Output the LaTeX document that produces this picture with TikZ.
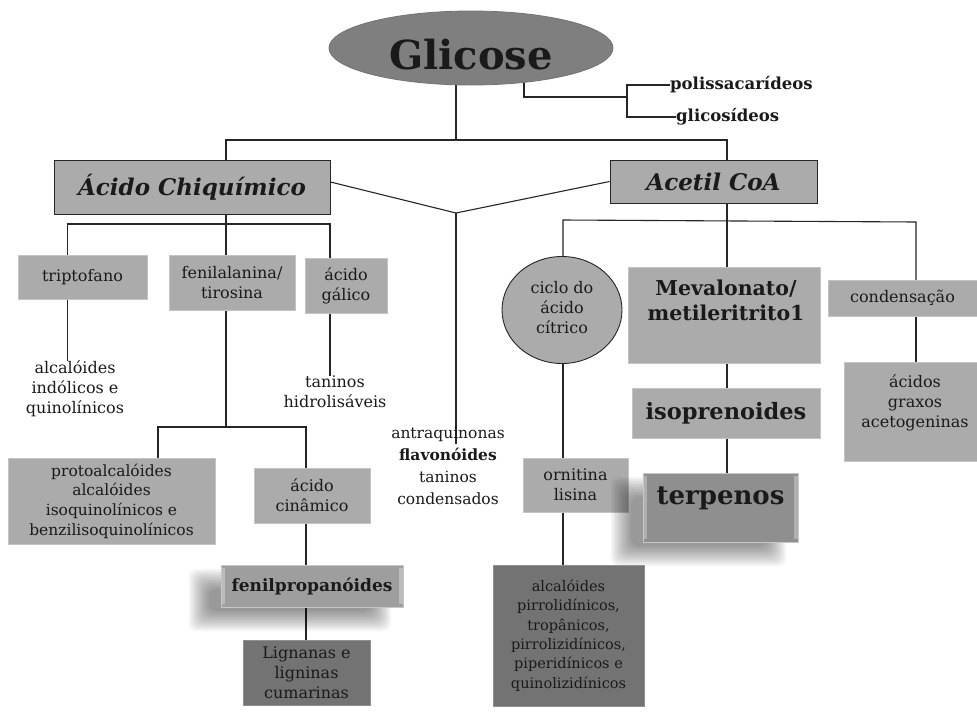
\documentclass[tikz,border=0pt]{standalone}
\usepackage{fontspec}
\setmainfont{DejaVu Serif}
\usetikzlibrary{shapes.geometric}
\pgfdeclarelayer{back}
\pgfdeclarelayer{bg}
\pgfsetlayers{back,bg,main}
\definecolor{boxl}{HTML}{ABABAB}
\definecolor{boxd}{HTML}{737373}
\definecolor{ellg}{HTML}{7F7F7F}
\definecolor{fcol}{HTML}{9E9E9E}
\definecolor{tcol}{HTML}{8F8F8F}
\definecolor{ink}{HTML}{1A1A1A}
\newcommand\fsz[2]{\fontsize{#1}{#2}\selectfont}
% soft shadow: x1 y1 x2 y2 (y grows downwards)
\newcommand\softshadow[4]{%
  \foreach \e in {-10,-8,...,10} {\fill[black,opacity=0.045,rounded corners=8pt] (#1-\e,#2-\e) rectangle (#3+\e,#4+\e);}}
\tikzset{
  conn/.style={draw=black!85, line width=1.1pt},
  sz/.style 2 args={minimum width=#1pt, minimum height=#2pt},
  txt/.style={text=ink, align=center, inner sep=0pt},
  rg/.style={font=\fsz{16}{20}},
  lbox/.style={rectangle, fill=boxl, draw=boxl!70!white, line width=0.8pt, txt, rg},
  dbox/.style={lbox, fill=boxd, draw=boxd!80!white},
  hbox/.style={rectangle, fill=boxl, draw=black!85, line width=1pt, txt, font=\fsz{23}{26}\bfseries\itshape},
  bevel/.style={path picture={
     \fill[white,opacity=.3] ([yshift=-3pt]path picture bounding box.north west) rectangle ([xshift=4pt,yshift=3pt]path picture bounding box.south west);
     \fill[white,opacity=.3] ([yshift=-3pt]path picture bounding box.north east) rectangle ([xshift=-4pt,yshift=3pt]path picture bounding box.south east);}},
}
\begin{document}
\begin{tikzpicture}[x=1pt,y=-1pt]
\useasboundingbox (0,0) rectangle (977,715);
\begin{pgfonlayer}{back}
\fill[white] (0,0) rectangle (977,715);
\end{pgfonlayer}

% top
\node[ellipse, fill=ellg, draw=black!55, line width=0.8pt, sz={284}{74}, inner sep=0pt] (glic) at (471,48) {};
\node[txt, font=\fsz{40}{42}\bfseries] (glict) at (471,55) {Glicose};
\node[txt, font=\fsz{16.5}{18}\bfseries, anchor=west] (polis) at (670,85) {polissacarídeos};
\node[txt, font=\fsz{16.5}{18}\bfseries, anchor=west] (glico) at (676,117) {glicosídeos};

\node[hbox, sz={276}{54}] (aci) at (192,187) {Ácido Chiquímico};
\node[hbox, sz={207}{43}] (ace) at (713.5,181.5) {Acetil CoA};

% left branch
\node[lbox, sz={129}{44}] (trip) at (82.5,277) {triptofano};
\node[lbox, sz={126}{55}] (fenil) at (232,282.5) {fenilalanina/\\tirosina};
\node[lbox, sz={82}{55}] (galico) at (346,285.5) {ácido\\gálico};
\node[txt, rg] (alcind) at (75,389) {alcalóides\\indólicos e\\quinolínicos};
\node[txt, rg] (tanh) at (335,392) {taninos\\hidrolisáveis};
\node[lbox, sz={207}{86}, font=\fsz{15.5}{19.7}] (proto) at (111.5,501) {protoalcalóides\\alcalóides\\isoquinolínicos e\\benzilisoquinolínicos};
\node[lbox, sz={116}{55}] (cinam) at (312,495.5) {ácido\\cinâmico};
\softshadow{199}{579}{381}{621}
\node[lbox, fill=fcol, draw=white!78!black, bevel, sz={182}{42}, font=\fsz{17}{20}\bfseries] (fprop) at (312,586) {fenilpropanóides};
\node[dbox, sz={127}{65}] (lign) at (306.5,672.5) {Lignanas e\\ligninas\\cumarinas};

% middle
\node[txt, font=\fsz{15.5}{22}] (antra) at (448,466) {antraquinonas\\\textbf{flavonóides}\\taninos\\condensados};

% right branch
\node[ellipse, fill=boxl, draw=black!85, line width=0.9pt, sz={120}{107}, inner sep=0pt] (circ) at (562,310) {};
\node[txt, rg] (circt) at (562,308) {ciclo do\\ácido\\cítrico};
\node[lbox, sz={192}{96}] (mev) at (724,315) {};
\node[txt, font=\fsz{20.5}{25}\bfseries] (mevt) at (726,300) {Mevalonato/\\metileritrito1};
\node[lbox, sz={188}{50}, font=\fsz{22.5}{26}\bfseries] (isop) at (726,413) {isoprenoides};
\node[lbox, sz={149}{36}] (cond) at (902.5,298) {condensação};
\node[lbox, sz={133}{99}] (acid) at (910.5,411.5) {};
\node[txt, rg] (acidt) at (915,403) {ácidos\\graxos\\acetogeninas};
\node[lbox, sz={105}{54}] (orn) at (575.5,485) {ornitina\\lisina};
\softshadow{621}{487}{776}{556}
\node[lbox, fill=tcol, draw=white!78!black, bevel, sz={155}{69}] (terp) at (720.5,507.5) {};
\node[txt, font=\fsz{26}{28}\bfseries] (terpt) at (720.5,498) {terpenos};
\node[dbox, sz={151}{141}, font=\fsz{14.5}{19.3}] (alcp) at (568.5,635.5) {alcalóides\\pirrolidínicos,\\tropânicos,\\pirrolizidínicos,\\piperidínicos e\\quinolizidínicos};

% connectors
\begin{pgfonlayer}{bg}
\draw[conn] (glic.center -| 456,0) -- (456,140);
\draw[conn] (aci.center -| 226,0) -- (226,140) -- (727,140) -- (ace.center -| 727,0);
\draw[conn] (glic.center -| 524,0) -- (524,97) -- (627,97);
\draw[conn] (polis.west) -- (polis.west -| 627,0) -- (glico.west -| 627,0) -- (glico.west);
\coordinate (vj) at (456,213);
\coordinate (ve) at (456,444);
\draw[conn] ([yshift=5pt]aci.east) -- (vj) -- (ace.west);
\draw[conn] (vj) -- (ve);
\draw[conn] (aci.center -| 226,0) -- (fenil.center -| 226,0);
\draw[conn] (trip.center -| 67.5,0) -- (67.5,224) -- (330,224) -- (galico.center -| 330,0);
\draw[conn] (trip.center -| 67.5,0) -- (alcind.north -| 67.5,0);
\draw[conn] (galico.center -| 330,0) -- (tanh.north -| 330,0);
\draw[conn] (fenil.center -| 226,0) -- (226,427);
\draw[conn] (proto.center -| 158,0) -- (158,427) -- (306,427) -- (cinam.center -| 306,0);
\draw[conn] (cinam.center -| 306,0) -- (lign.center -| 306,0);
\draw[conn] (ace.center -| 727,0) -- (terp.center -| 727,0);
\draw[conn] (circ.center -| 563,0) -- (563,220) -- (916,222) -- (cond.center -| 916,0);
\draw[conn] (cond.center -| 916,0) -- (acid.center -| 916,0);
\draw[conn] (circ.center -| 563,0) -- (alcp.center -| 563,0);
\end{pgfonlayer}
\end{tikzpicture}
\end{document}
